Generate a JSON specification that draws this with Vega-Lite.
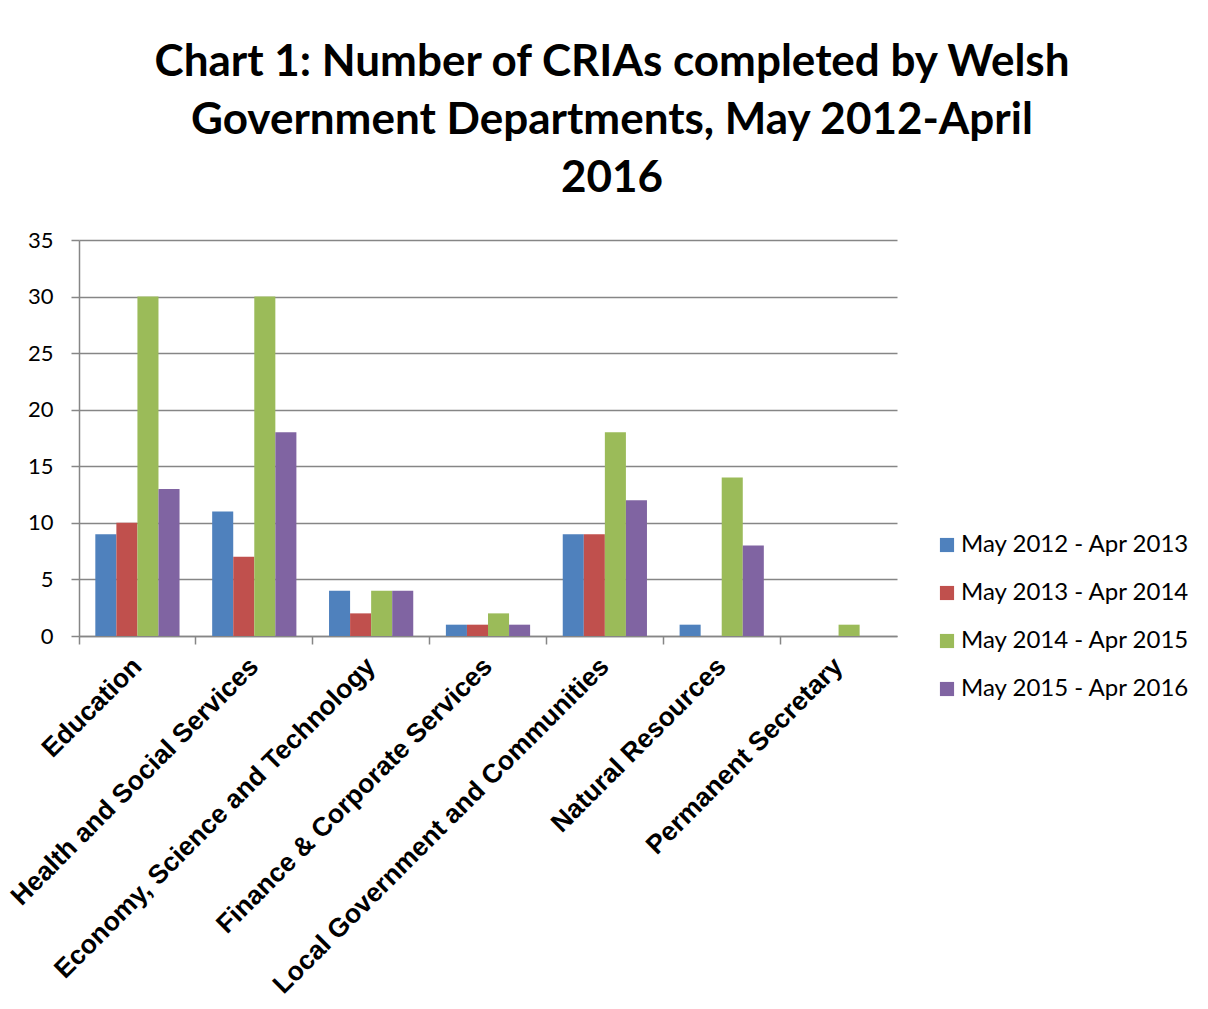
{
  "$schema": "https://vega.github.io/schema/vega-lite/v6.json",
  "autosize": "none",
  "padding": {"left": 79, "top": 240, "right": 311, "bottom": 373},
  "width": 818,
  "height": 396,
  "background": "white",
  "title": {
    "text": ["Chart 1: Number of CRIAs completed by Welsh", "Government Departments, May 2012-April", "2016"],
    "font": "Lato",
    "fontSize": 44,
    "fontWeight": "bold",
    "color": "black",
    "lineHeight": 58,
    "anchor": "middle",
    "frame": "group",
    "dx": 124,
    "offset": 28
  },
  "data": {
    "values": [
      {"dept": "Education", "period": "May 2012 - Apr 2013", "count": 9},
      {"dept": "Education", "period": "May 2013 - Apr 2014", "count": 10},
      {"dept": "Education", "period": "May 2014 - Apr 2015", "count": 30},
      {"dept": "Education", "period": "May 2015 - Apr 2016", "count": 13},
      {"dept": "Health and Social Services", "period": "May 2012 - Apr 2013", "count": 11},
      {"dept": "Health and Social Services", "period": "May 2013 - Apr 2014", "count": 7},
      {"dept": "Health and Social Services", "period": "May 2014 - Apr 2015", "count": 30},
      {"dept": "Health and Social Services", "period": "May 2015 - Apr 2016", "count": 18},
      {"dept": "Economy, Science and Technology", "period": "May 2012 - Apr 2013", "count": 4},
      {"dept": "Economy, Science and Technology", "period": "May 2013 - Apr 2014", "count": 2},
      {"dept": "Economy, Science and Technology", "period": "May 2014 - Apr 2015", "count": 4},
      {"dept": "Economy, Science and Technology", "period": "May 2015 - Apr 2016", "count": 4},
      {"dept": "Finance & Corporate Services", "period": "May 2012 - Apr 2013", "count": 1},
      {"dept": "Finance & Corporate Services", "period": "May 2013 - Apr 2014", "count": 1},
      {"dept": "Finance & Corporate Services", "period": "May 2014 - Apr 2015", "count": 2},
      {"dept": "Finance & Corporate Services", "period": "May 2015 - Apr 2016", "count": 1},
      {"dept": "Local Government and Communities", "period": "May 2012 - Apr 2013", "count": 9},
      {"dept": "Local Government and Communities", "period": "May 2013 - Apr 2014", "count": 9},
      {"dept": "Local Government and Communities", "period": "May 2014 - Apr 2015", "count": 18},
      {"dept": "Local Government and Communities", "period": "May 2015 - Apr 2016", "count": 12},
      {"dept": "Natural Resources", "period": "May 2012 - Apr 2013", "count": 1},
      {"dept": "Natural Resources", "period": "May 2013 - Apr 2014", "count": 0},
      {"dept": "Natural Resources", "period": "May 2014 - Apr 2015", "count": 14},
      {"dept": "Natural Resources", "period": "May 2015 - Apr 2016", "count": 8},
      {"dept": "Permanent Secretary", "period": "May 2012 - Apr 2013", "count": 0},
      {"dept": "Permanent Secretary", "period": "May 2013 - Apr 2014", "count": 0},
      {"dept": "Permanent Secretary", "period": "May 2014 - Apr 2015", "count": 1},
      {"dept": "Permanent Secretary", "period": "May 2015 - Apr 2016", "count": 0}
    ]
  },
  "mark": {"type": "bar"},
  "encoding": {
    "x": {
      "field": "dept",
      "type": "nominal",
      "sort": null,
      "scale": {"paddingInner": 0, "paddingOuter": 0},
      "axis": {
        "title": null,
        "bandPosition": 0,
        "labelAngle": -45,
        "labelAlign": "right",
        "labelBaseline": "middle",
        "labelFont": "Liberation Sans",
        "labelFontWeight": "bold",
        "labelFontSize": 26.5,
        "labelColor": "black",
        "labelPadding": 18,
        "labelLimit": 1000,
        "tickSize": 8,
        "tickColor": "#868686",
        "domainColor": "#868686",
        "tickWidth": 1.5,
        "domainWidth": 1.5,
        "grid": false
      }
    },
    "xOffset": {
      "field": "period",
      "type": "nominal",
      "scale": {"paddingInner": 0, "paddingOuter": 0.775}
    },
    "y": {
      "field": "count",
      "type": "quantitative",
      "scale": {"domain": [0, 35], "nice": false},
      "axis": {
        "title": null,
        "values": [0, 5, 10, 15, 20, 25, 30, 35],
        "labelFont": "Lato",
        "labelFontSize": 22,
        "labelColor": "black",
        "labelPadding": 18,
        "tickSize": 8,
        "tickColor": "#868686",
        "domainColor": "#868686",
        "tickWidth": 1.5,
        "domainWidth": 1.5,
        "grid": true,
        "gridColor": "#868686",
        "gridWidth": 1.5
      }
    },
    "color": {
      "field": "period",
      "type": "nominal",
      "scale": {
        "domain": ["May 2012 - Apr 2013", "May 2013 - Apr 2014", "May 2014 - Apr 2015", "May 2015 - Apr 2016"],
        "range": ["#4F81BD", "#C0504D", "#9BBB59", "#8064A2"]
      },
      "legend": {
        "title": null,
        "orient": "none",
        "legendX": 856,
        "legendY": 293,
        "symbolType": "square",
        "symbolSize": 200,
        "symbolStrokeWidth": 0,
        "labelFont": "Lato",
        "labelFontSize": 24,
        "labelColor": "black",
        "labelOffset": 2,
        "rowPadding": 24,
        "labelLimit": 400
      }
    }
  },
  "config": {
    "view": {"stroke": null}
  }
}
